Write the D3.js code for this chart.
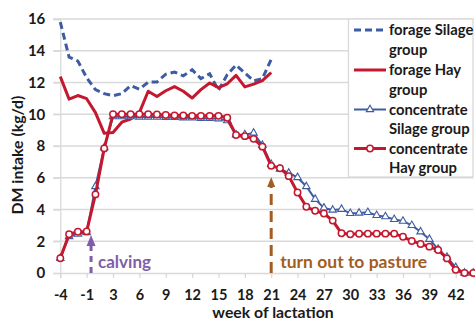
<!DOCTYPE html>
<html>
<head>
<meta charset="utf-8">
<script src="https://cdn.jsdelivr.net/npm/d3@7"></script>
<style>
  html, body { margin: 0; padding: 0; background: #fff; }
  svg { display: block; font-family: Lato, "Open Sans", sans-serif; font-weight: bold; }
</style>
</head>
<body>
<svg id="chart" width="475" height="321"></svg>
<script>
// Week of lactation (no week 0: calving sits between -1 and 1)
const weeks = [-4, -3, -2, -1, 1, 2, 3, 4, 5, 6, 7, 8, 9, 10, 11, 12, 13, 14, 15, 16,
  17, 18, 19, 20, 21, 22, 23, 24, 25, 26, 27, 28, 29, 30, 31, 32, 33, 34, 35, 36,
  37, 38, 39, 40, 41, 42, 43, 44];
const axisWeeks = [-4, -1, 3, 6, 9, 12, 15, 18, 21, 24, 27, 30, 33, 36, 39, 42];
const yTicks = [0, 2, 4, 6, 8, 10, 12, 14, 16];

// DM intake, kg/d (forage recorded until turn out at week 21)
const forageSilage = [15.8, 13.6, 13.35, 12.3, 11.55, 11.3, 11.17, 11.3, 11.8, 11.58,
  12.02, 12.03, 12.52, 12.66, 12.42, 12.8, 12.25, 12.55, 11.5, 12.5,
  13.1, 12.6, 12.1, 12.25, 13.45];
const forageHay = [12.37, 10.95, 11.18, 10.98, 10.1, 8.8, 8.85, 9.5, 9.7, 10.1,
  11.45, 11.12, 11.48, 11.74, 11.45, 11.02, 11.55, 11.97, 11.68, 11.92,
  12.45, 11.72, 11.9, 12.12, 12.63];
const concSilage = [0.93, 2.3, 2.45, 2.55, 5.45, 7.9, 9.85, 9.85, 9.85, 9.83,
  9.83, 9.82, 9.8, 9.8, 9.78, 9.77, 9.75, 9.75, 9.72, 9.6,
  8.7, 8.72, 8.82, 8.05, 6.85, 6.55, 6.3, 6.02, 5.45, 4.65,
  4.1, 3.97, 4.02, 3.76, 3.78, 3.82, 3.63, 3.55, 3.38, 3.27,
  3.0, 2.6, 2.13, 1.5, 1.0, 0.35, 0, 0];
const concHay = [0.93, 2.44, 2.6, 2.62, 4.95, 7.85, 10.0, 10.0, 10.0, 10.0,
  10.0, 9.98, 9.95, 9.93, 9.92, 9.9, 9.9, 9.9, 9.9, 9.78,
  8.69, 8.62, 8.45, 7.96, 6.75, 6.6, 6.1, 5.07, 4.17, 3.92,
  3.75, 3.3, 2.5, 2.44, 2.47, 2.48, 2.48, 2.48, 2.48, 2.28,
  2.02, 1.83, 1.66, 1.45, 0.92, 0.2, 0, 0];

const legendLabels = [
  ["forage Silage", "group"],
  ["forage Hay", "group"],
  ["concentrate", "Silage group"],
  ["concentrate", "Hay group"]
];

const BLUE = "#3d5ca3";
const RED = "#c4182f";
const GRID = "#d9d9d9";
const INK = "#1a1a1a";

const svg = d3.select("#chart");
const plotLeft = 60.3, plotRight = 473.3, plotTop = 19, plotBottom = 273;

const x = d3.scalePoint().domain(weeks).range([plotLeft, plotRight]);
const y = d3.scaleLinear().domain([0, 16]).range([plotBottom, plotTop]);

// horizontal gridlines
svg.append("g").selectAll("line").data(yTicks.slice(1)).join("line")
  .attr("x1", plotLeft - 7).attr("x2", plotRight)
  .attr("y1", d => y(d)).attr("y2", d => y(d))
  .attr("stroke", GRID).attr("stroke-width", 1.3);

// y axis
const yAxis = svg.append("g").attr("transform", `translate(${plotLeft},0)`)
  .call(d3.axisLeft(y).tickValues(yTicks).tickSize(7).tickPadding(8));
yAxis.select(".domain").attr("stroke", GRID).attr("stroke-width", 1.3);
yAxis.selectAll(".tick line").attr("stroke", GRID).attr("stroke-width", 1.3);
yAxis.selectAll("text").attr("font-size", 15).attr("fill", INK)
  .attr("font-family", "Lato").attr("font-weight", "bold");

// x axis
const xAxis = svg.append("g").attr("transform", `translate(0,${plotBottom})`)
  .call(d3.axisBottom(x).tickValues(axisWeeks).tickSize(5).tickPadding(12));
xAxis.select(".domain").attr("stroke", GRID).attr("stroke-width", 1.3);
xAxis.selectAll(".tick line").attr("stroke", GRID).attr("stroke-width", 1.3);
xAxis.selectAll("text").attr("font-size", 14.5).attr("fill", INK)
  .attr("font-family", "Lato").attr("font-weight", "bold");

// axis titles
svg.append("text").attr("x", 273).attr("y", 318).attr("text-anchor", "middle")
  .attr("font-size", 15.8).attr("fill", INK).text("week of lactation");
svg.append("text").attr("transform", "translate(23,155) rotate(-90)")
  .attr("text-anchor", "middle").attr("font-size", 15.8).attr("fill", INK)
  .text("DM intake (kg/d)");

// series lines
const line = d3.line()
  .defined(d => d != null)
  .x((d, i) => x(weeks[i]))
  .y(d => y(d));

svg.append("path").datum(forageSilage).attr("d", line)
  .attr("fill", "none").attr("stroke", BLUE).attr("stroke-width", 3)
  .attr("stroke-dasharray", "7,4");
svg.append("path").datum(forageHay).attr("d", line)
  .attr("fill", "none").attr("stroke", RED).attr("stroke-width", 3)
  .attr("stroke-linejoin", "round");

svg.append("path").datum(concSilage).attr("d", line)
  .attr("fill", "none").attr("stroke", BLUE).attr("stroke-width", 2);
const tri = d3.symbol().type(d3.symbolTriangle).size(24);
svg.append("g").selectAll("path").data(concSilage).join("path")
  .attr("d", tri)
  .attr("transform", (d, i) => `translate(${x(weeks[i])},${y(d)})`)
  .attr("fill", "#fff").attr("stroke", BLUE).attr("stroke-width", 1.1);

svg.append("path").datum(concHay).attr("d", line)
  .attr("fill", "none").attr("stroke", RED).attr("stroke-width", 3)
  .attr("stroke-linejoin", "round");
svg.append("g").selectAll("circle").data(concHay).join("circle")
  .attr("cx", (d, i) => x(weeks[i])).attr("cy", d => y(d)).attr("r", 3.2)
  .attr("fill", "#fff").attr("stroke", RED).attr("stroke-width", 1.5);

// event arrows
function eventArrow(xPos, tipValue, headLen, headHalf, dash, color) {
  const tip = y(tipValue);
  svg.append("line").attr("x1", xPos).attr("x2", xPos)
    .attr("y1", plotBottom).attr("y2", tip + headLen)
    .attr("stroke", color).attr("stroke-width", 3).attr("stroke-dasharray", dash);
  svg.append("path")
    .attr("d", `M${xPos},${tip} L${xPos + headHalf},${tip + headLen} L${xPos - headHalf},${tip + headLen} Z`)
    .attr("fill", color);
}
const calvingX = (x(-1) + x(1)) / 2;
eventArrow(calvingX, 2.4, 11, 4.5, "6,5", "#7e5ea8");
svg.append("text").attr("x", calvingX + 7).attr("y", 267.5)
  .attr("font-size", 17).attr("fill", "#7e5ea8").text("calving");

const pastureX = x(21);
eventArrow(pastureX, 6.05, 10, 4, "11,6", "#a35d22");
svg.append("text").attr("x", pastureX + 9).attr("y", 267.5)
  .attr("font-size", 17.5).attr("fill", "#a35d22").text("turn out to pasture");

// legend
const lg = svg.append("g");
lg.append("rect").attr("x", 348.5).attr("y", plotTop).attr("width", 124.5).attr("height", 158)
  .attr("fill", "#fff").attr("stroke", GRID).attr("stroke-width", 1.3);
const rowY = [30, 70, 109.5, 148.5];
const sx1 = 354, sx2 = 386, sxm = 370;
legendLabels.forEach((lab, k) => {
  const yy = rowY[k];
  const color = (k % 2 === 0) ? BLUE : RED;
  const ln = lg.append("line").attr("x1", sx1).attr("x2", sx2).attr("y1", yy).attr("y2", yy)
    .attr("stroke", color).attr("stroke-width", k === 2 ? 2 : 3);
  if (k === 0) ln.attr("stroke-dasharray", "7,4");
  if (k === 2) lg.append("path").attr("d", tri).attr("transform", `translate(${sxm},${yy})`)
    .attr("fill", "#fff").attr("stroke", BLUE).attr("stroke-width", 1.1);
  if (k === 3) lg.append("circle").attr("cx", sxm).attr("cy", yy).attr("r", 3.2)
    .attr("fill", "#fff").attr("stroke", RED).attr("stroke-width", 1.5);
  lab.forEach((t, j) => {
    lg.append("text").attr("x", 389).attr("y", yy + j * 19.5 + 5.3)
      .attr("font-size", 14.8).attr("fill", INK).text(t);
  });
});
</script>
</body>
</html>
